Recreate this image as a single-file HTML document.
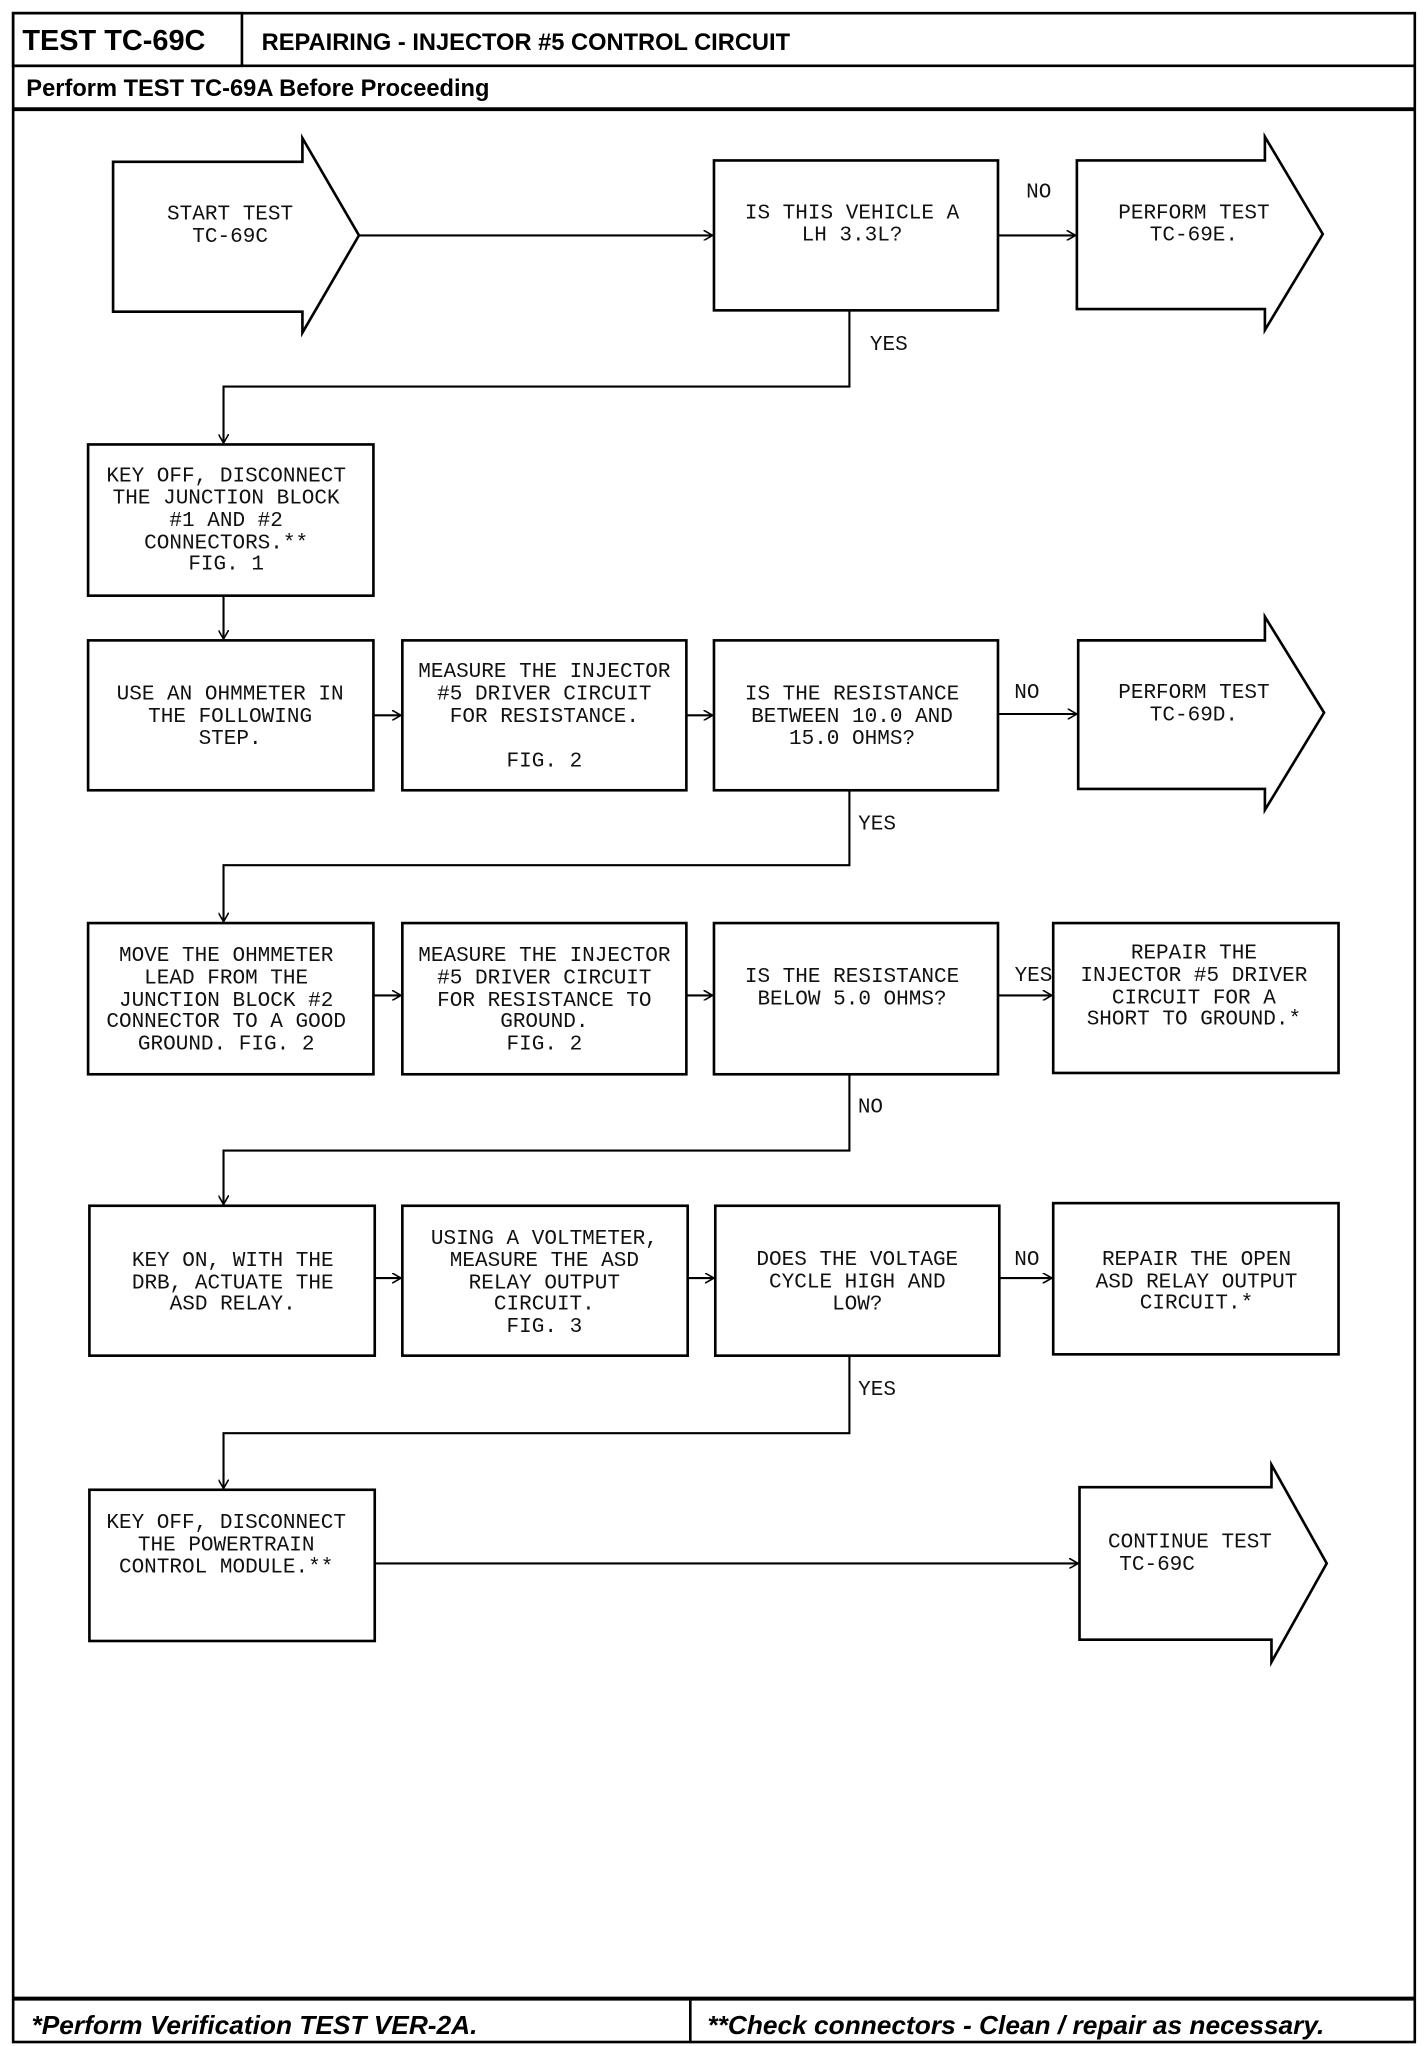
<!DOCTYPE html>
<html><head><meta charset="utf-8"><style>
html,body{margin:0;padding:0;background:#fff;}
svg{display:block;}
.t{font-family:"Liberation Mono",monospace;font-size:16px;fill:#111;text-anchor:middle;}
.h{font-family:"Liberation Sans",sans-serif;font-weight:bold;fill:#000;}
.f{font-family:"Liberation Sans",sans-serif;font-weight:bold;font-style:italic;font-size:20px;fill:#000;}
</style></head><body>
<svg width="1424" height="2046" viewBox="0 0 1083 1556" xmlns="http://www.w3.org/2000/svg">
<defs><marker id="a" markerWidth="8" markerHeight="8" refX="7" refY="4" orient="auto" markerUnits="userSpaceOnUse"><path d="M0,0 L7,4 L0,8" fill="none" stroke="#000" stroke-width="1.2"/></marker></defs>
<g fill="none" stroke="#000" stroke-width="2">
<rect x="10" y="10" width="1066" height="1543"/>
<rect x="10" y="10" width="174" height="40"/>
<line x1="10" y1="50" x2="1076" y2="50"/>
<line x1="10" y1="83" x2="1076" y2="83" stroke-width="3"/>
<line x1="10" y1="1520" x2="1076" y2="1520" stroke-width="3"/>
<line x1="525" y1="1520" x2="525" y2="1553"/>
<!-- shapes -->
<path d="M230,123 L86,123 L86,237 L230,237 L230,253 L273,179 L230,105 Z"/>
<rect x="543" y="122" width="216" height="114"/>
<path d="M962,122 L819,122 L819,235 L962,235 L962,251 L1006,178 L962,104 Z"/>
<rect x="67" y="338" width="217" height="115"/>
<rect x="67" y="487" width="217" height="114"/>
<rect x="306" y="487" width="216" height="114"/>
<rect x="543" y="487" width="216" height="114"/>
<path d="M962,487 L820,487 L820,600 L962,600 L962,616 L1007,542 L962,469 Z"/>
<rect x="67" y="702" width="217" height="115"/>
<rect x="306" y="702" width="216" height="115"/>
<rect x="543" y="702" width="216" height="115"/>
<rect x="801" y="702" width="217" height="114"/>
<rect x="68" y="917" width="217" height="114"/>
<rect x="306" y="917" width="217" height="114"/>
<rect x="544" y="917" width="216" height="114"/>
<rect x="801" y="915" width="217" height="115"/>
<rect x="68" y="1133" width="217" height="115"/>
<path d="M967,1131 L821,1131 L821,1247 L967,1247 L967,1264 L1009,1189 L967,1114 Z"/>
</g>
<g fill="none" stroke="#000" stroke-width="1.6" marker-end="url(#a)">
<line x1="273" y1="179" x2="542" y2="179"/>
<line x1="759" y1="179" x2="818" y2="179"/>
<polyline points="646,236 646,294 170,294 170,337"/>
<line x1="170" y1="453" x2="170" y2="486"/>
<line x1="284" y1="544" x2="305" y2="544"/>
<line x1="522" y1="544" x2="542" y2="544"/>
<line x1="759" y1="543" x2="819" y2="543"/>
<polyline points="646,601 646,658 170,658 170,701"/>
<line x1="284" y1="757" x2="305" y2="757"/>
<line x1="522" y1="757" x2="542" y2="757"/>
<line x1="759" y1="757" x2="800" y2="757"/>
<polyline points="646,817 646,875 170,875 170,916"/>
<line x1="285" y1="972" x2="305" y2="972"/>
<line x1="523" y1="972" x2="543" y2="972"/>
<line x1="760" y1="972" x2="800" y2="972"/>
<polyline points="646,1031 646,1090 170,1090 170,1132"/>
<line x1="285" y1="1189" x2="820" y2="1189"/>
</g>
<text class="h" x="17" y="38" font-size="22">TEST TC-69C</text>
<text class="h" x="199" y="38" font-size="18">REPAIRING - INJECTOR #5 CONTROL CIRCUIT</text>
<text class="h" x="20" y="73" font-size="18">Perform TEST TC-69A Before Proceeding</text>
<text class="f" x="24" y="1547">*Perform Verification TEST VER-2A.</text>
<text class="f" x="538" y="1547">**Check connectors - Clean / repair as necessary.</text>
<g class="t">
<text x="175" y="167">START TEST</text><text x="175" y="184">TC-69C</text>
<text x="648" y="166">IS THIS VEHICLE A</text><text x="648" y="183">LH 3.3L?</text>
<text x="908" y="166">PERFORM TEST</text><text x="908" y="183">TC-69E.</text>
<text x="790" y="150">NO</text><text x="676" y="266">YES</text>
<text x="172" y="366">KEY OFF, DISCONNECT</text><text x="172" y="383">THE JUNCTION BLOCK</text><text x="172" y="400">#1 AND #2</text><text x="172" y="417">CONNECTORS.**</text><text x="172" y="433">FIG. 1</text>
<text x="175" y="532">USE AN OHMMETER IN</text><text x="175" y="549">THE FOLLOWING</text><text x="175" y="566">STEP.</text>
<text x="414" y="515">MEASURE THE INJECTOR</text><text x="414" y="532">#5 DRIVER CIRCUIT</text><text x="414" y="549">FOR RESISTANCE.</text><text x="414" y="583">FIG. 2</text>
<text x="648" y="532">IS THE RESISTANCE</text><text x="648" y="549">BETWEEN 10.0 AND</text><text x="648" y="566">15.0 OHMS?</text>
<text x="908" y="531">PERFORM TEST</text><text x="908" y="548">TC-69D.</text>
<text x="781" y="531">NO</text><text x="667" y="631">YES</text>
<text x="172" y="731">MOVE THE OHMMETER</text><text x="172" y="748">LEAD FROM THE</text><text x="172" y="765">JUNCTION BLOCK #2</text><text x="172" y="781">CONNECTOR TO A GOOD</text><text x="172" y="798">GROUND. FIG. 2</text>
<text x="414" y="731">MEASURE THE INJECTOR</text><text x="414" y="748">#5 DRIVER CIRCUIT</text><text x="414" y="765">FOR RESISTANCE TO</text><text x="414" y="781">GROUND.</text><text x="414" y="798">FIG. 2</text>
<text x="648" y="747">IS THE RESISTANCE</text><text x="648" y="764">BELOW 5.0 OHMS?</text>
<text x="908" y="729">REPAIR THE</text><text x="908" y="746">INJECTOR #5 DRIVER</text><text x="908" y="763">CIRCUIT FOR A</text><text x="908" y="779">SHORT TO GROUND.*</text>
<text x="786" y="746">YES</text><text x="662" y="846">NO</text>
<text x="177" y="963">KEY ON, WITH THE</text><text x="177" y="980">DRB, ACTUATE THE</text><text x="177" y="996">ASD RELAY.</text>
<text x="414" y="946">USING A VOLTMETER,</text><text x="414" y="963">MEASURE THE ASD</text><text x="414" y="980">RELAY OUTPUT</text><text x="414" y="996">CIRCUIT.</text><text x="414" y="1013">FIG. 3</text>
<text x="652" y="962">DOES THE VOLTAGE</text><text x="652" y="979">CYCLE HIGH AND</text><text x="652" y="996">LOW?</text>
<text x="910" y="962">REPAIR THE OPEN</text><text x="910" y="979">ASD RELAY OUTPUT</text><text x="910" y="995">CIRCUIT.*</text>
<text x="781" y="962">NO</text><text x="667" y="1061">YES</text>
<text x="172" y="1162">KEY OFF, DISCONNECT</text><text x="172" y="1179">THE POWERTRAIN</text><text x="172" y="1196">CONTROL MODULE.**</text>
<text x="905" y="1177">CONTINUE TEST</text><text x="880" y="1194">TC-69C</text>
</g>
</svg>
</body></html>
